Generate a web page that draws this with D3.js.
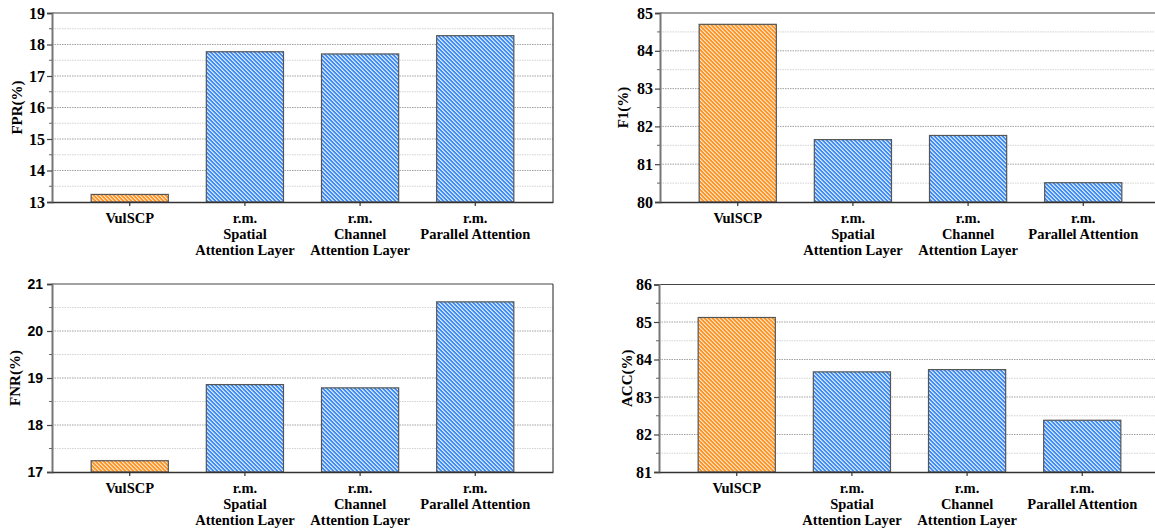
<!DOCTYPE html>
<html>
<head>
<meta charset="utf-8">
<script src="https://cdn.jsdelivr.net/npm/d3@7"></script>
<style>
  html, body { margin: 0; padding: 0; background: #fff; }
  svg { display: block; }
</style>
</head>
<body>
<script>
const categories = ['VulSCP', 'Spatial', 'Channel', 'Parallel'];
const categoryLines = [
  ['VulSCP'],
  ['r.m.', 'Spatial', 'Attention Layer'],
  ['r.m.', 'Channel', 'Attention Layer'],
  ['r.m.', 'Parallel Attention']
];
const fprValues = [13.24, 17.77, 17.7, 18.28];
const f1Values = [84.7, 81.65, 81.76, 80.51];
const fnrValues = [17.24, 18.86, 18.79, 20.62];
const accValues = [85.12, 83.67, 83.73, 82.38];

const fprTicks = [13, 14, 15, 16, 17, 18, 19];
const f1Ticks = [80, 81, 82, 83, 84, 85];
const fnrTicks = [17, 18, 19, 20, 21];
const accTicks = [81, 82, 83, 84, 85, 86];

const serif = '"Liberation Serif", "Times New Roman", serif';
const sans = '"Liberation Sans", Arial, sans-serif';

const panels = [
  { label: 'FPR(%)', values: fprValues, ticks: fprTicks, x0: 52, x1: 553, y0: 13, y1: 202, labelX: 17, tickFont: serif },
  { label: 'F1(%)', values: f1Values, ticks: f1Ticks, x0: 660, x1: 1161, y0: 13, y1: 202, labelX: 623, tickFont: serif },
  { label: 'FNR(%)', values: fnrValues, ticks: fnrTicks, x0: 52, x1: 553, y0: 284, y1: 472, labelX: 15, tickFont: sans },
  { label: 'ACC(%)', values: accValues, ticks: accTicks, x0: 659, x1: 1160, y0: 284.5, y1: 472, labelX: 627, tickFont: serif }
];

const svg = d3.select('body')
  .append('svg')
  .attr('width', 1155)
  .attr('height', 531);

// pixel hatch patterns (\\\ direction, 4px period)
const defs = svg.append('defs');
function hatch(id, color, light1, light2) {
  const p = defs.append('pattern')
    .attr('id', id)
    .attr('patternUnits', 'userSpaceOnUse')
    .attr('width', 4)
    .attr('height', 4);
  p.append('rect').attr('width', 4).attr('height', 4).attr('fill', color);
  for (let i = 0; i < 4; i++) {
    p.append('rect')
      .attr('x', i).attr('y', i).attr('width', 1).attr('height', 1)
      .attr('fill', light1).attr('shape-rendering', 'crispEdges');
    p.append('rect')
      .attr('x', (i + 1) % 4).attr('y', i).attr('width', 1).attr('height', 1)
      .attr('fill', light2).attr('shape-rendering', 'crispEdges');
  }
}
hatch('hatchOrange', '#ff9526', '#ffe3c4', '#ffc080');
hatch('hatchBlue', '#418cf2', '#d4e7ff', '#a3c9fb');

panels.forEach((pn) => {
  const g = svg.append('g');
  const x = d3.scaleBand()
    .domain(categories)
    .range([pn.x0, pn.x1])
    .paddingInner(0.33)
    .paddingOuter(0.34);
  const lo = pn.ticks[0];
  const hi = pn.ticks[pn.ticks.length - 1];
  const y = d3.scaleLinear().domain([lo, hi]).range([pn.y1, pn.y0]);

  const minor = d3.range(lo + 0.5, hi, 1);

  // grid
  g.append('g')
    .selectAll('line')
    .data(minor)
    .enter()
    .append('line')
    .attr('x1', pn.x0)
    .attr('x2', pn.x1)
    .attr('y1', (d) => y(d))
    .attr('y2', (d) => y(d))
    .attr('stroke', '#c8c8c8')
    .attr('stroke-width', 0.8)
    .attr('stroke-dasharray', '1.5,1');

  g.append('g')
    .selectAll('line')
    .data(pn.ticks.slice(1, -1))
    .enter()
    .append('line')
    .attr('x1', pn.x0)
    .attr('x2', pn.x1)
    .attr('y1', (d) => y(d))
    .attr('y2', (d) => y(d))
    .attr('stroke', '#8a8a8a')
    .attr('stroke-width', 0.8)
    .attr('stroke-dasharray', '1.5,1');

  // bars
  g.selectAll('.bar')
    .data(pn.values)
    .enter()
    .append('rect')
    .attr('class', 'bar')
    .attr('x', (d, i) => x(categories[i]))
    .attr('y', (d) => y(d))
    .attr('width', x.bandwidth())
    .attr('height', (d) => y(lo) - y(d))
    .attr('fill', (d, i) => (i === 0 ? 'url(#hatchOrange)' : 'url(#hatchBlue)'))
    .attr('stroke', '#555')
    .attr('stroke-width', 1.2);

  // frame
  g.append('line')
    .attr('x1', pn.x0).attr('x2', pn.x1)
    .attr('y1', pn.y0).attr('y2', pn.y0)
    .attr('stroke', '#444').attr('stroke-width', 1.2);
  g.append('line')
    .attr('x1', pn.x1).attr('x2', pn.x1)
    .attr('y1', pn.y0).attr('y2', pn.y1)
    .attr('stroke', '#444').attr('stroke-width', 1.2);

  // y axis
  const yAxis = g.append('g')
    .attr('transform', `translate(${pn.x0},0)`)
    .call(d3.axisLeft(y).tickValues(pn.ticks).tickSize(5).tickPadding(pn.tickFont === sans ? 4 : 2).tickFormat(d3.format('d')));
  yAxis.select('.domain').attr('stroke', '#777').attr('stroke-width', 2);
  yAxis.selectAll('.tick line').attr('stroke', '#444').attr('stroke-width', 1.2);
  yAxis.selectAll('.tick text')
    .attr('fill', '#000')
    .style('font-family', pn.tickFont)
    .style('font-weight', 'bold')
    .style('font-size', pn.tickFont === sans ? '14px' : '16px');

  yAxis.append('g')
    .selectAll('line')
    .data(minor)
    .enter()
    .append('line')
    .attr('x1', -3)
    .attr('x2', 0)
    .attr('y1', (d) => y(d))
    .attr('y2', (d) => y(d))
    .attr('stroke', '#666')
    .attr('stroke-width', 1);

  // x axis
  const xAxis = g.append('g')
    .attr('transform', `translate(0,${pn.y1})`)
    .call(d3.axisBottom(x).tickSize(4).tickSizeOuter(0).tickFormat(''));
  xAxis.select('.domain').attr('stroke', '#333').attr('stroke-width', 1.5);
  xAxis.selectAll('.tick line').attr('stroke', '#333').attr('stroke-width', 1.2);

  categoryLines.forEach((lines, i) => {
    const cx = x(categories[i]) + x.bandwidth() / 2;
    const t = g.append('text')
      .attr('x', cx)
      .attr('y', pn.y1 + 21)
      .attr('text-anchor', 'middle')
      .attr('fill', '#000')
      .style('font-family', serif)
      .style('font-weight', 'bold')
      .style('font-size', '14.5px');
    lines.forEach((ln, j) => {
      t.append('tspan')
        .attr('x', cx)
        .attr('dy', j === 0 ? 0 : 16)
        .text(ln);
    });
  });

  // y label
  g.append('text')
    .attr('transform', `translate(${pn.labelX},${(pn.y0 + pn.y1) / 2}) rotate(-90)`)
    .attr('text-anchor', 'middle')
    .attr('dy', '0.35em')
    .attr('fill', '#000')
    .style('font-family', serif)
    .style('font-weight', 'bold')
    .style('font-size', '15px')
    .text(pn.label);
});
</script>
</body>
</html>
